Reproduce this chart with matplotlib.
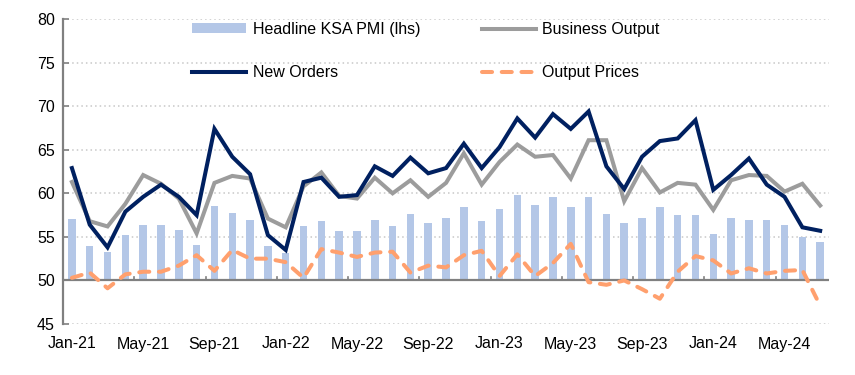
import matplotlib.pyplot as plt
import numpy as np

plt.rcParams['font.family'] = ['Liberation Sans', 'DejaVu Sans']

# monthly data Jan-21 .. Jul-24
months = ['Jan-21', 'Feb-21', 'Mar-21', 'Apr-21', 'May-21', 'Jun-21', 'Jul-21', 'Aug-21',
          'Sep-21', 'Oct-21', 'Nov-21', 'Dec-21', 'Jan-22', 'Feb-22', 'Mar-22', 'Apr-22',
          'May-22', 'Jun-22', 'Jul-22', 'Aug-22', 'Sep-22', 'Oct-22', 'Nov-22', 'Dec-22',
          'Jan-23', 'Feb-23', 'Mar-23', 'Apr-23', 'May-23', 'Jun-23', 'Jul-23', 'Aug-23',
          'Sep-23', 'Oct-23', 'Nov-23', 'Dec-23', 'Jan-24', 'Feb-24', 'Mar-24', 'Apr-24',
          'May-24', 'Jun-24', 'Jul-24']

headline_pmi = [57.1, 53.9, 53.3, 55.2, 56.4, 56.4, 55.8, 54.1, 58.6, 57.7, 56.9, 53.9,
                53.2, 56.2, 56.8, 55.7, 55.7, 56.9, 56.2, 57.6, 56.6, 57.2, 58.4, 56.8,
                58.2, 59.8, 58.7, 59.6, 58.4, 59.6, 57.6, 56.6, 57.2, 58.4, 57.5, 57.5,
                55.3, 57.2, 56.9, 56.9, 56.4, 55.0, 54.4]

business_output = [61.3, 56.8, 56.2, 58.8, 62.1, 61.1, 59.4, 55.4, 61.2, 62.0, 61.7, 57.1,
                   56.1, 60.8, 62.4, 59.7, 59.4, 61.8, 60.0, 61.5, 59.6, 61.2, 64.6, 61.0,
                   63.6, 65.6, 64.2, 64.4, 61.7, 66.1, 66.1, 59.1, 62.9, 60.1, 61.2, 61.0,
                   58.1, 61.5, 62.1, 62.0, 60.2, 61.1, 58.6]

new_orders = [62.9, 56.4, 53.8, 57.9, 59.6, 61.0, 59.6, 57.5, 67.4, 64.2, 62.2, 55.2,
              53.5, 61.3, 61.8, 59.6, 59.8, 63.1, 62.0, 64.1, 62.3, 62.9, 65.7, 62.9,
              65.3, 68.6, 66.4, 69.1, 67.4, 69.4, 63.1, 60.5, 64.2, 66.0, 66.3, 68.4,
              60.4, 62.1, 64.0, 61.0, 59.6, 56.1, 55.7]

output_prices = [50.3, 50.9, 49.1, 50.7, 51.0, 51.0, 51.7, 52.9, 51.1, 53.5, 52.5, 52.5,
                 52.1, 50.3, 53.6, 53.2, 52.7, 53.2, 53.3, 50.9, 51.7, 51.5, 52.9, 53.4,
                 50.5, 53.0, 50.5, 52.0, 54.2, 49.8, 49.5, 50.0, 49.0, 47.9, 51.0, 52.8,
                 52.3, 50.8, 51.4, 50.8, 51.1, 51.2, 47.1]

x = np.arange(len(months))

fig = plt.figure(figsize=(8.55, 3.75), dpi=100)
ax = fig.add_axes([0.0737, 0.136, 0.896, 0.813])

bars = ax.bar(x, np.array(headline_pmi) - 50, bottom=50, width=0.42, color='#B4C7E7',
              label='Headline KSA PMI (lhs)', zorder=2)
l_bo, = ax.plot(x, business_output, color='#9C9C9C', lw=2.9, label='Business Output',
                zorder=3, solid_joinstyle='miter')
l_no, = ax.plot(x, new_orders, color='#002060', lw=2.9, label='New Orders', zorder=4,
                solid_joinstyle='miter')
l_op, = ax.plot(x, output_prices, color='#FFA06E', lw=2.9, label='Output Prices',
                dashes=(2.5, 2.4), dash_capstyle='round', zorder=5)

ax.set_ylim(45, 80)
ax.set_xlim(-0.5, len(months) - 0.5)
ax.set_yticks(np.arange(45, 81, 5))
for v in np.arange(45, 81, 5):
    if v != 50:
        ax.axhline(v, color='#C8C8C8', lw=1.1, ls=(0, (1, 2)), zorder=1)
ax.axhline(50, color='#808080', lw=1.6, zorder=2.5)

# category labels every 4 months, tick marks between categories
ax.set_xticks(x[::4])
ax.set_xticklabels(months[::4])
ax.tick_params(axis='x', length=0, pad=9)
for b in np.arange(3.5, len(months), 4):
    ax.plot([b, b], [50, 50.45], color='#808080', lw=1.2, zorder=2.5)

ax.tick_params(axis='y', direction='in', length=4, color='#808080', width=1.2, pad=6)
ax.tick_params(labelsize=11.5)
for s in ['top', 'right', 'bottom']:
    ax.spines[s].set_visible(False)
ax.spines['left'].set_color('#808080')
ax.spines['left'].set_linewidth(1.6)

handles = [bars, l_no, l_bo, l_op]
labels = ['Headline KSA PMI (lhs)', 'New Orders', 'Business Output', 'Output Prices']
ax.legend(handles, labels, ncol=2, frameon=False, fontsize=11.5,
          loc='upper left', bbox_to_anchor=(192 / 855, 1 - 22 / 375),
          bbox_transform=fig.transFigure, borderaxespad=0, borderpad=0,
          handlelength=3.4, handletextpad=0.4, columnspacing=3.85, labelspacing=1.75,
          handleheight=0.6)

fig.savefig('out.png', dpi=100)
